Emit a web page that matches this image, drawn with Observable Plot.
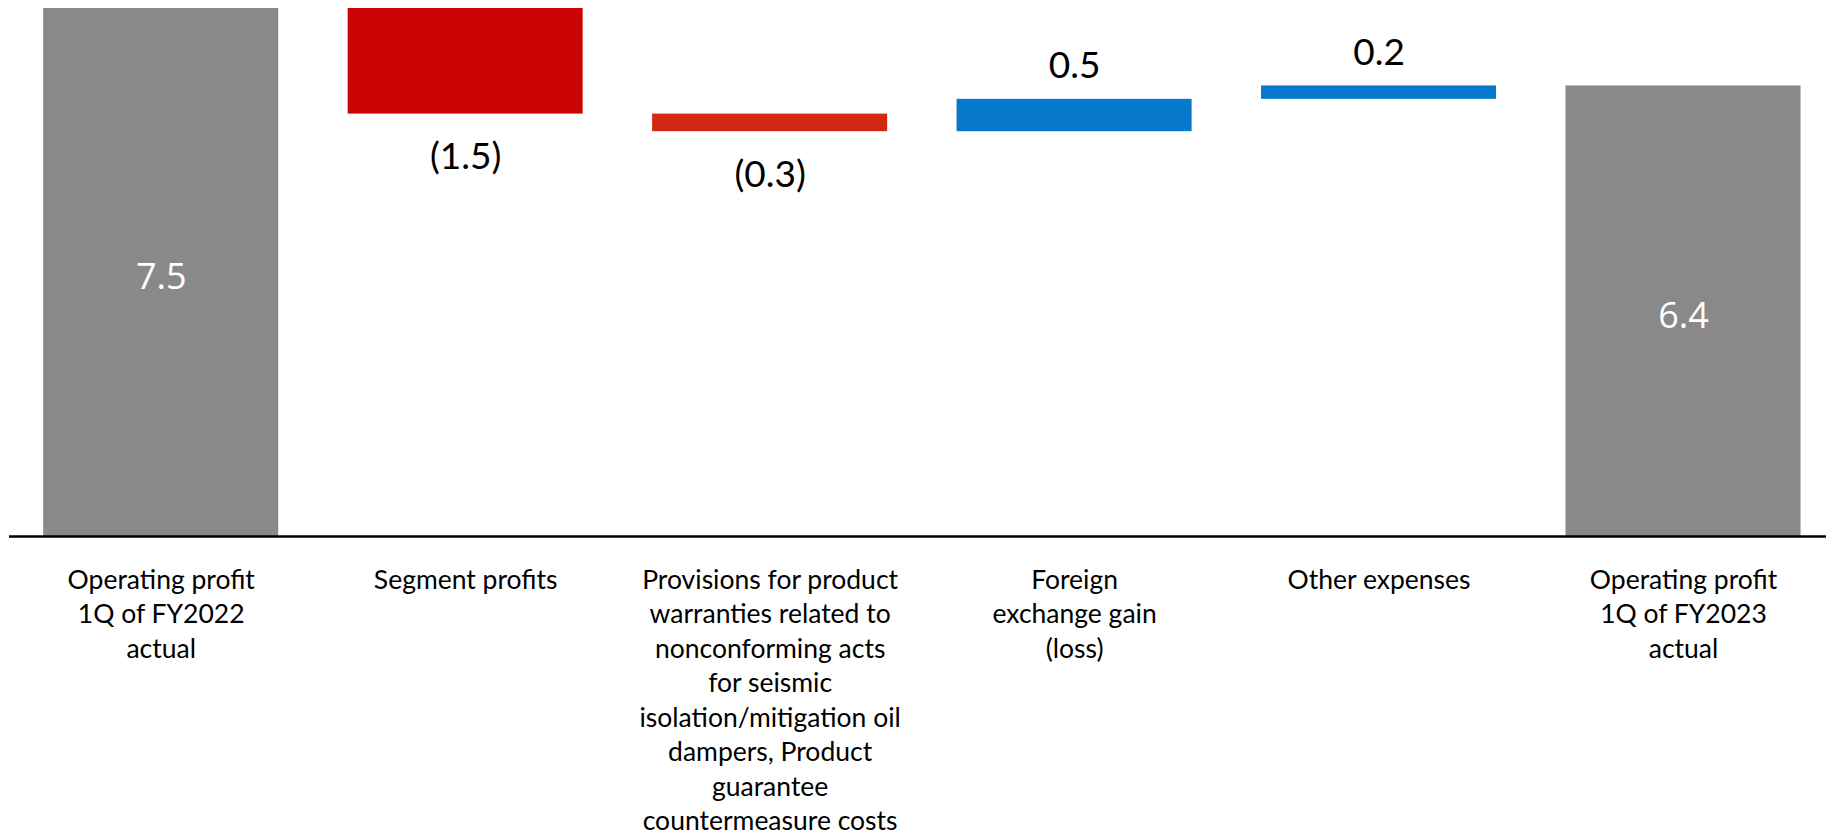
<!DOCTYPE html>
<html>
<head>
<meta charset="utf-8">
<script src="https://cdn.jsdelivr.net/npm/d3@7"></script>
<script src="https://cdn.jsdelivr.net/npm/@observablehq/plot@0.6"></script>
<style>
  html, body { margin: 0; padding: 0; background: #ffffff; }
  #chart svg { display: block; }
</style>
</head>
<body>
<div id="chart"></div>
<script>
// ---- data ----
const categories = [
  "Operating profit\n1Q of FY2022\nactual",
  "Segment profits",
  "Provisions for product\nwarranties related to\nnonconforming acts\nfor seismic\nisolation/mitigation oil\ndampers, Product\nguarantee\ncountermeasure costs",
  "Foreign\nexchange gain\n(loss)",
  "Other expenses",
  "Operating profit\n1Q of FY2023\nactual"
];
const kinds = ["total", "decrease", "decrease", "increase", "increase", "total"];
const starts = [0, 7.5, 6.0, 5.75, 6.21, 0];
const ends = [7.5, 6.0, 5.75, 6.21, 6.40, 6.4];
const valueLabels = ["7.5", "(1.5)", "(0.3)", "0.5", "0.2", "6.4"];
const barColors = ["#898989", "#CB0505", "#D22A12", "#0779CC", "#0779CC", "#898989"];

const data = categories.map((c, i) => ({
  cat: c, kind: kinds[i], start: starts[i], end: ends[i],
  label: valueLabels[i], color: barColors[i]
}));

const totals = data.filter(d => d.kind === "total");
const decs = data.filter(d => d.kind === "decrease");
const incs = data.filter(d => d.kind === "increase");

const outerFont = "Lato, 'Open Sans', sans-serif";
const innerFont = "'Open Sans', 'Noto Sans', sans-serif";

const chart = Plot.plot({
  width: 1826,
  height: 836,
  marginLeft: 9,
  marginRight: 0,
  marginTop: 8,
  marginBottom: 300,
  style: { background: "#ffffff", overflow: "visible" },
  x: { domain: categories, paddingInner: 0.228, paddingOuter: 0.098, align: 0.573, round: false, axis: null },
  y: { domain: [0, 7.5], axis: null },
  color: { type: "identity" },
  marks: [
    Plot.barY(data, { x: "cat", y1: "start", y2: "end", fill: "color" }),
    Plot.ruleY([0], { stroke: "#000000", strokeWidth: 2.5 }),
    // totals: label inside bar
    Plot.text(totals, {
      x: "cat", y: d => (d.start + d.end) / 2, text: "label",
      fill: "#ffffff", fontSize: 36, fontFamily: innerFont, lineAnchor: "middle", dy: 5
    }),
    // decreases: label below
    Plot.text(decs, {
      x: "cat", y: "end", text: "label",
      fill: "#000000", fontSize: 37, fontFamily: outerFont, lineAnchor: "middle", dy: 43
    }),
    // increases: label above
    Plot.text(incs, {
      x: "cat", y: "end", text: "label",
      fill: "#000000", fontSize: 37, fontFamily: outerFont, lineAnchor: "middle", dy: -33
    }),
    // category labels under axis
    Plot.text(data, {
      x: "cat", y: () => 0, text: "cat",
      fill: "#000000", fontSize: 26.5, fontFamily: outerFont,
      lineAnchor: "top", lineHeight: 1.3, dy: 28
    })
  ]
});

document.getElementById("chart").appendChild(chart);
</script>
</body>
</html>
